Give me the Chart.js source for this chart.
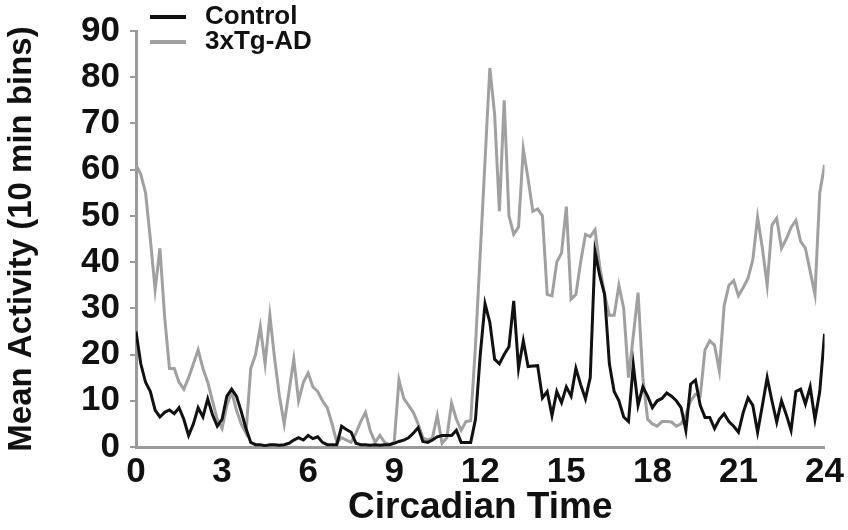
<!DOCTYPE html>
<html>
<head>
<meta charset="utf-8">
<script src="https://cdn.jsdelivr.net/npm/chart.js@4.4.1/dist/chart.umd.min.js"></script>
<style>
    html, body { margin: 0; padding: 0; background: #fff; }
    #wrap { width: 848px; height: 530px; }
</style>
</head>
<body>
<div id="wrap"><canvas id="activity-chart"></canvas></div>
<script>
// Mean activity per 10 min bin, CT0 -> CT24 (145 bins)
const control = [
    25, 18, 14, 12, 8, 6.5, 7.5, 8, 7.2, 8.5,
    6, 2.5, 5, 8.5, 6.5, 10.4, 7, 4.5, 6, 11,
    12.5, 11, 7.7, 4, 1, 0.5, 0.5, 0.3, 0.5, 0.5,
    0.4, 0.5, 0.8, 1.5, 2, 1.5, 2.5, 1.8, 2.2, 1,
    0.5, 0.5, 0.5, 4.5, 3.8, 3.2, 0.8, 0.5, 0.5, 0.4,
    0.5, 0.4, 0.5, 0.5, 0.8, 1.2, 1.5, 2, 3, 4.2,
    1.2, 1, 1.5, 2.2, 2.5, 2.5, 2.5, 3.6, 1, 1,
    1, 6, 20, 31, 27, 19, 18, 20, 21.7, 31.6,
    17, 23, 17.4, 17.5, 17.6, 10.6, 12, 6.8, 12, 9.6,
    13, 11, 17, 13.5, 10.4, 15, 42.3, 37, 33, 18,
    12, 10, 6.5, 5.5, 17.8, 9, 13, 11, 8.5, 10,
    10.5, 11.7, 11, 10, 8.5, 3.6, 13.6, 14.5, 9, 6.4,
    6.4, 4, 6, 7.2, 5.5, 4.5, 3.2, 7.5, 10.6, 9,
    3.2, 9, 15, 10, 5.4, 10, 7, 3.6, 12, 12.5,
    9.3, 13, 6, 12, 24.5
];
const tgAD = [
    61, 59, 55, 45, 34, 43, 28, 17, 17, 14,
    12.5, 15, 18, 21, 17, 14, 10, 6, 4, 9,
    12, 8, 5, 3, 17, 20, 26, 18, 28.5, 19,
    11, 5, 12, 19, 10, 14, 16, 13, 12, 10,
    8.5, 5, 1, 2, 1.5, 1, 3, 5.5, 7.5, 3.5,
    1, 2.5, 1, 0.5, 1, 14.5, 10.5, 9, 7.5, 5,
    2, 1.5, 2, 6.8, 0.8, 2, 9.5, 6, 3.6, 5.5,
    5.7, 22, 42, 62, 82, 72, 51, 75, 50, 46,
    47.6, 64.5, 58, 51, 51.5, 50, 33, 32.7, 40, 42,
    52, 32, 33, 40, 46, 45.5, 47, 39, 33, 28.5,
    28.5, 35, 30, 15, 24, 33.4, 15, 6, 5, 4.5,
    5.5, 5.5, 5.4, 4.5, 5, 7, 10, 11.4, 11, 21,
    23, 22, 16.5, 30.5, 35, 36, 32.7, 34.5, 36.5, 40.5,
    49.7, 43, 35, 48, 49.5, 43, 45, 47.5, 49, 44.5,
    43, 38, 33, 55, 61
];
const seriesNames = ['Control', '3xTg-AD'];
const xTicks = [0, 3, 6, 9, 12, 15, 18, 21, 24];
const yTicks = [0, 10, 20, 30, 40, 50, 60, 70, 80, 90];
const binMinutes = 10;

const FONT = "'Liberation Sans', Arial, sans-serif";
const INK = '#111111';
const AXIS = '#9a9a9a';

// x in circadian hours for each bin
const toPoints = (arr) => arr.map((v, i) => ({ x: i * binMinutes / 60, y: v }));

// two-row legend in the top left corner of the plot
const cornerLegend = {
    id: 'cornerLegend',
    afterDraw(chart) {
        const ctx = chart.ctx;
        const left = chart.chartArea.left;
        ctx.save();
        ctx.font = `bold 26px ${FONT}`;
        ctx.textBaseline = 'middle';
        ctx.textAlign = 'left';
        chart.data.datasets.forEach((ds, i) => {
            const y = 17 + i * 25;
            ctx.strokeStyle = ds.borderColor;
            ctx.lineWidth = 4;
            ctx.beginPath();
            ctx.moveTo(left + 14, y);
            ctx.lineTo(left + 50, y);
            ctx.stroke();
            ctx.fillStyle = INK;
            ctx.fillText(ds.label, left + 69, y);
        });
        ctx.restore();
    }
};

new Chart(document.getElementById('activity-chart'), {
    type: 'line',
    data: {
        datasets: [
            { label: seriesNames[0], data: toPoints(control), borderColor: '#111111', borderWidth: 3 },
            { label: seriesNames[1], data: toPoints(tgAD), borderColor: '#a0a0a0', borderWidth: 3 }
        ]
    },
    options: {
        responsive: true,
        maintainAspectRatio: false,
        animation: false,
        layout: { padding: { top: 24, right: 20, left: 0, bottom: 0 } },
        elements: {
            line: { tension: 0, fill: false },
            point: { radius: 0 }
        },
        plugins: {
            legend: { display: false },
            tooltip: { enabled: false }
        },
        scales: {
            x: {
                type: 'linear',
                min: 0,
                max: 24,
                afterBuildTicks: (s) => { s.ticks = xTicks.map(v => ({ value: v })); },
                afterFit: (s) => { s.height = 83; },
                grid: { display: false, drawTicks: false },
                border: { display: true, color: AXIS, width: 3 },
                ticks: {
                    color: INK, padding: 4, maxRotation: 0, autoSkip: false,
                    font: { family: FONT, size: 35, weight: 'bold' }
                },
                title: {
                    display: true, text: 'Circadian Time', color: INK,
                    padding: { top: 0, bottom: 0 },
                    font: { family: FONT, size: 37, weight: 'bold' }
                }
            },
            y: {
                min: 0,
                max: 90,
                afterBuildTicks: (s) => { s.ticks = yTicks.map(v => ({ value: v })); },
                afterFit: (s) => { s.width = 136; },
                grid: { drawOnChartArea: false, drawTicks: true, tickLength: 6, color: AXIS, lineWidth: 2 },
                border: { display: true, color: AXIS, width: 3 },
                ticks: {
                    color: INK, padding: 10, autoSkip: false,
                    font: { family: FONT, size: 35, weight: 'bold' }
                },
                title: {
                    display: true, text: 'Mean Activity (10 min bins)', color: INK,
                    padding: { top: 2, bottom: 4 },
                    font: { family: FONT, size: 33, weight: 'bold' }
                }
            }
        }
    },
    plugins: [cornerLegend]
});
</script>
</body>
</html>
